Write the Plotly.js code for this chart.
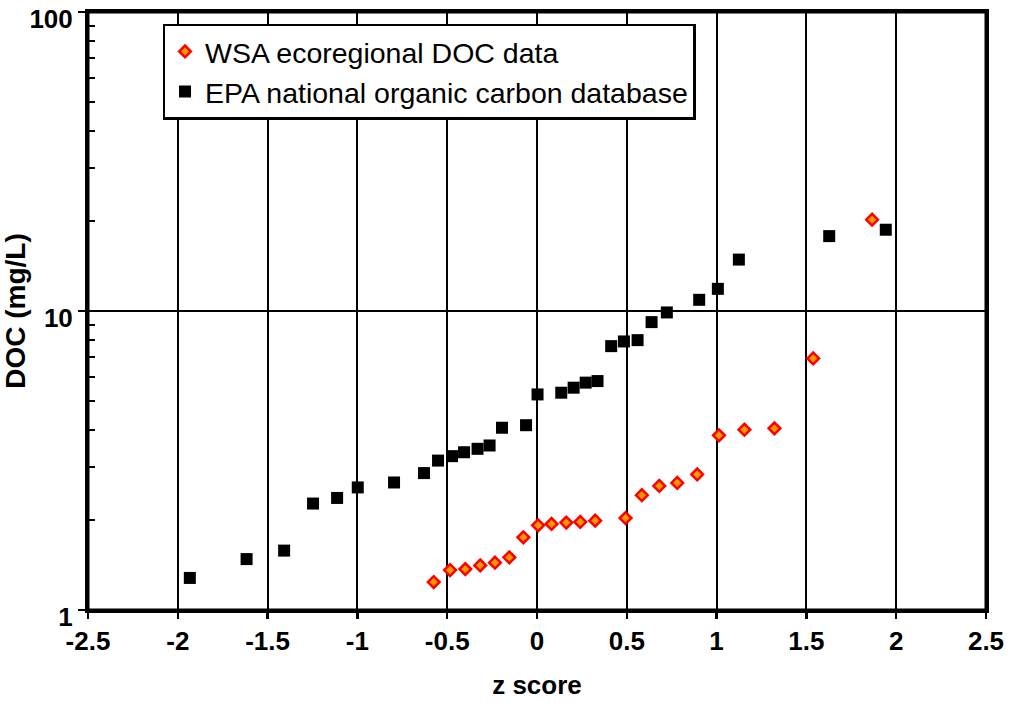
<!DOCTYPE html>
<html>
<head>
<meta charset="utf-8">
<script src="https://cdn.plot.ly/plotly-3.0.1.min.js"></script>
<style>html,body{margin:0;padding:0;background:#fff;}#chart{width:1018px;height:703px;}</style>
</head>
<body>
<div id="chart"></div>
<script>
// WSA ecoregional DOC data (z score, DOC mg/L)
const wsaZ = [-0.575, -0.484, -0.399, -0.316, -0.234, -0.154, -0.076, 0.006, 0.081, 0.163, 0.241, 0.324, 0.493, 0.584, 0.681, 0.781, 0.892, 1.013, 1.155, 1.322, 1.538, 1.866];
const wsaDOC = [1.24, 1.36, 1.37, 1.41, 1.44, 1.50, 1.75, 1.92, 1.94, 1.96, 1.97, 1.99, 2.03, 2.42, 2.60, 2.66, 2.84, 3.84, 4.01, 4.05, 6.94, 20.2];
// EPA national organic carbon database
const epaZ = [-1.933, -1.617, -1.408, -1.247, -1.113, -0.998, -0.796, -0.629, -0.551, -0.473, -0.406, -0.331, -0.264, -0.195, -0.061, 0.003, 0.135, 0.204, 0.271, 0.337, 0.413, 0.484, 0.560, 0.638, 0.723, 0.903, 1.007, 1.124, 1.627, 1.942];
const epaDOC = [1.28, 1.48, 1.58, 2.27, 2.37, 2.57, 2.67, 2.87, 3.16, 3.27, 3.37, 3.46, 3.55, 4.07, 4.15, 5.26, 5.33, 5.54, 5.76, 5.83, 7.63, 7.91, 7.99, 9.18, 9.89, 10.9, 11.86, 14.86, 17.8, 18.7];
const xTicks = [-2.5, -2, -1.5, -1, -0.5, 0, 0.5, 1, 1.5, 2, 2.5];
const xTickText = ['-2.5', '-2', '-1.5', '-1', '-0.5', '0', '0.5', '1', '1.5', '2', '2.5'];
const yTicks = [1, 10, 100];
const yTickText = ['1', '10', '100'];
const yMinorTicks = [2, 3, 4, 5, 6, 7, 8, 9, 20, 30, 40, 50, 60, 70, 80, 90];

const FONT = 'Liberation Sans, Arial, sans-serif';

const traces = [
  {
    x: wsaZ, y: wsaDOC, type: 'scatter', mode: 'markers',
    name: 'WSA ecoregional DOC data', legendgroup: 'a',
    marker: {symbol: 'diamond', size: 9, color: '#FF9900', line: {color: '#FF0000', width: 2.5}}
  },
  {
    x: epaZ, y: epaDOC, type: 'scatter', mode: 'markers',
    name: 'EPA national organic carbon database', legendgroup: 'b',
    marker: {symbol: 'square', size: 12, color: '#000000', line: {width: 0}}
  }
];

const layout = {
  width: 1018, height: 703,
  margin: {l: 88, r: 32, t: 12, b: 93},
  paper_bgcolor: '#ffffff', plot_bgcolor: '#ffffff',
  font: {family: FONT, color: '#000'},
  showlegend: true,
  legend: {
    x: 0.083, y: 0.98, xanchor: 'left', yanchor: 'top',
    bgcolor: '#ffffff', bordercolor: '#000', borderwidth: 2.5,
    font: {size: 28.5, family: FONT, color: '#000'},
    traceorder: 'grouped', tracegroupgap: 0, itemwidth: 30
  },
  shapes: [
    {type: 'rect', xref: 'paper', yref: 'paper', x0: 0, x1: 1, y0: 0, y1: 1,
     line: {color: '#000', width: 3}, fillcolor: 'rgba(0,0,0,0)', layer: 'above'}
  ],
  xaxis: {
    range: [-2.5, 2.5], tickvals: xTicks, ticktext: xTickText,
    showgrid: true, gridcolor: '#000', gridwidth: 2,
    zeroline: false,
    showline: true, linecolor: '#000', linewidth: 3, mirror: true,
    ticks: 'outside', ticklen: 6, tickwidth: 2.5, tickcolor: '#000',
    ticklabeloverflow: 'allow',
    tickfont: {size: 26, family: FONT, weight: 'bold'},
    title: {text: '<b>z score</b>', font: {size: 26}, standoff: 21}
  },
  yaxis: {
    type: 'log', range: [0, 2], tickvals: yTicks, ticktext: yTickText,
    showgrid: true, gridcolor: '#000', gridwidth: 2,
    zeroline: false,
    showline: true, linecolor: '#000', linewidth: 3, mirror: true,
    ticks: 'outside', ticklen: 7, tickwidth: 2.5, tickcolor: '#000',
    ticklabeloverflow: 'allow', ticklabelshift: 7,
    tickfont: {size: 26, family: FONT, weight: 'bold'},
    minor: {ticks: 'inside', ticklen: 7, tickwidth: 2, tickcolor: '#000', showgrid: false,
            tickvals: yMinorTicks},
    title: {text: '<b>DOC (mg/L)</b>', font: {size: 28}, standoff: 4}
  }
};

Plotly.newPlot('chart', traces, layout, {displayModeBar: false, staticPlot: true});
</script>
</body>
</html>
